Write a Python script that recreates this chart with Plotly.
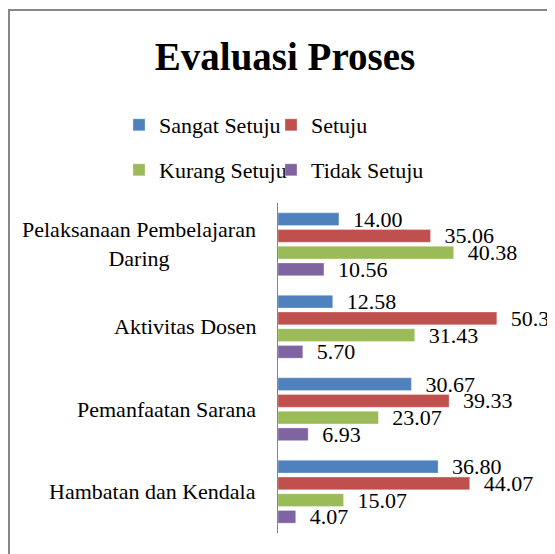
import plotly.graph_objects as go

categories = ["Pelaksanaan Pembelajaran Daring", "Aktivitas Dosen", "Pemanfaatan Sarana", "Hambatan dan Kendala"]
category_labels = ["Pelaksanaan Pembelajaran<br>Daring", "Aktivitas Dosen", "Pemanfaatan Sarana", "Hambatan dan Kendala"]
series_names = ["Sangat Setuju", "Setuju", "Kurang Setuju", "Tidak Setuju"]
sangat_setuju = [14.00, 12.58, 30.67, 36.80]
setuju = [35.06, 50.30, 39.33, 44.07]
kurang_setuju = [40.38, 31.43, 23.07, 15.07]
tidak_setuju = [10.56, 5.70, 6.93, 4.07]
colors = ["#4F81BD", "#C0504D", "#9BBB59", "#8064A2"]

SERIF = "Liberation Serif"
W, H = 555, 554
OFF = 8  # the page body adds an 8px offset
ML, MT = 278 - OFF, 203 - OFF
PLOT_RIGHT, PLOT_BOTTOM = 539 - OFF, 533 - OFF
MR, MB = W - PLOT_RIGHT, H - PLOT_BOTTOM

# legend placement (page pixels of entry text start, row centre)
legend_ids = ["legend", "legend2", "legend3", "legend4"]
legend_pos = [(159, 125), (311, 125), (159, 170), (311, 170)]

fig = go.Figure()
for name, vals, col, lg in zip(series_names, [sangat_setuju, setuju, kurang_setuju, tidak_setuju], colors, legend_ids):
    fig.add_trace(go.Bar(
        name=name, y=categories, x=vals, orientation="h",
        marker=dict(color=col, line=dict(color="rgba(255,255,255,0.6)", width=0.5)),
        texttemplate="\u00a0\u00a0%{x:.2f}", textposition="outside",
        constraintext="none", cliponaxis=False,
        textfont=dict(family=SERIF, size=22, color="black"),
        legend=lg, showlegend=True,
    ))

pw = W - ML - MR
ph = H - MT - MB

annotations = []
for cat, lab in zip(categories, category_labels):
    annotations.append(dict(
        x=0, xref="paper", y=cat, yref="y", text=lab, showarrow=False,
        xanchor="right", yanchor="middle", xshift=-20, align="center",
        font=dict(family=SERIF, size=22, color="black"),
    ))

legends = {}
for lg, (tx, ty) in zip(legend_ids, legend_pos):
    legends[lg] = dict(
        orientation="h", x=(tx - OFF - 40) / W, xref="container", xanchor="left",
        y=1 - (ty - OFF) / H, yref="container", yanchor="middle",
        font=dict(family=SERIF, size=22, color="black"), bgcolor="rgba(0,0,0,0)",
        visible=True,
    )

fig.update_layout(
    width=W, height=H,
    showlegend=True,
    margin=dict(l=ML, r=MR, t=MT, b=MB),
    paper_bgcolor="white", plot_bgcolor="white",
    barmode="group", bargap=0.19, bargroupgap=0.24,
    title=dict(text="<b>Evaluasi Proses</b>", x=(285 - OFF) / W, xref="container", xanchor="center",
               y=1 - (56 - OFF) / H, yref="container", yanchor="middle",
               font=dict(family=SERIF, size=39, color="black")),
    xaxis=dict(range=[0, 60], visible=False, showgrid=False, zeroline=False, fixedrange=True),
    yaxis=dict(type="category", autorange="reversed", showline=True, linecolor="#868686", linewidth=1,
               showticklabels=False, ticks="", showgrid=False, zeroline=False),
    annotations=annotations,
    shapes=[dict(type="rect", xref="paper", yref="paper",
                 x0=(9 - OFF - ML) / pw, x1=(640 - ML) / pw,
                 y0=(H - MB - 640) / ph, y1=(H - MB - (10 - OFF)) / ph,
                 line=dict(color="#888888", width=2), fillcolor="rgba(0,0,0,0)", layer="below")],
    **legends,
)

fig.write_html("out.html")
